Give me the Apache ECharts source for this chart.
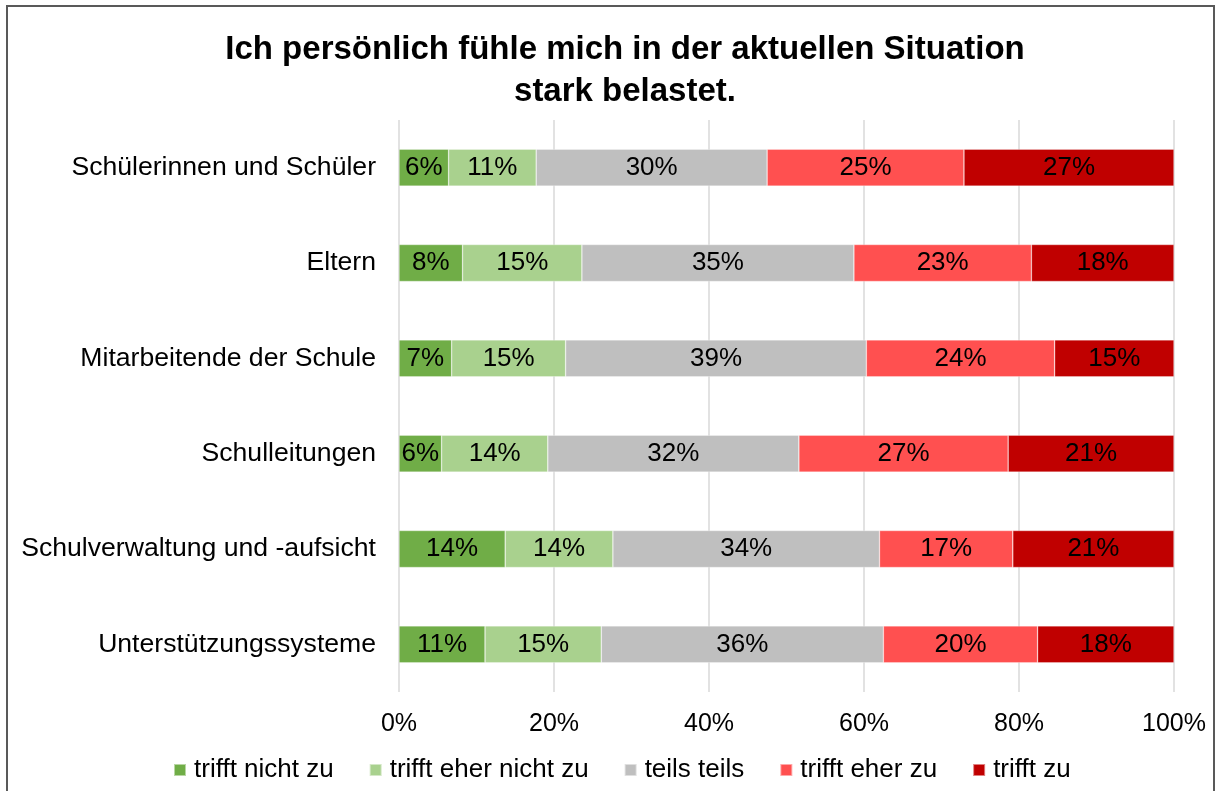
<!DOCTYPE html>
<html>
<head>
<meta charset="utf-8">
<script src="https://cdn.jsdelivr.net/npm/echarts@6/dist/echarts.min.js"></script>
<style>
  html, body { margin: 0; padding: 0; background: #fff; }
  #chart { position: absolute; left: 0; top: 0; width: 1217px; height: 791px; }
  #frame { position: absolute; left: 6px; top: 5px; width: 1205px; height: 820px;
           border: 2px solid #595959; pointer-events: none; }
</style>
</head>
<body>
<div id="chart"></div>
<div id="frame"></div>
<script>
// Kategorien (von oben nach unten)
const groups = ['Schülerinnen und Schüler', 'Eltern', 'Mitarbeitende der Schule',
  'Schulleitungen', 'Schulverwaltung und -aufsicht', 'Unterstützungssysteme']

// Antwortanteile in Prozent, je Kategorie
const trifftNichtZu = [6.4, 8.2, 6.8, 5.5, 13.7, 11.1]
const trifftEherNichtZu = [11.3, 15.4, 14.7, 13.7, 13.9, 15.0]
const teilsTeils = [29.8, 35.1, 38.8, 32.4, 34.4, 36.4]
const trifftEherZu = [25.4, 22.9, 24.3, 27.0, 17.2, 19.9]
const trifftZu = [27.1, 18.4, 15.4, 21.4, 20.8, 17.6]

const seriesNames = ['trifft nicht zu', 'trifft eher nicht zu', 'teils teils', 'trifft eher zu', 'trifft zu']
const xTicks = [0, 20, 40, 60, 80, 100]

const chart = echarts.init(document.getElementById('chart'))
const font = 'Liberation Sans, Arial, sans-serif'

const seriesData = [trifftNichtZu, trifftEherNichtZu, teilsTeils, trifftEherZu, trifftZu]
const colors = ['#70AD47', '#A9D18E', '#BFBFBF', '#FF5050', '#C00000']

const series = seriesData.map(function (data, i) {
  return {
    name: seriesNames[i],
    type: 'bar',
    stack: 'total',
    barWidth: 37,
    data: data,
    itemStyle: { color: colors[i], borderColor: 'rgba(255,255,255,0.5)', borderWidth: 0.6 },
    label: {
      show: true,
      position: 'inside',
      color: '#000',
      fontFamily: font,
      fontSize: 26,
      formatter: function (p) { return Math.round(p.value) + '%' }
    }
  }
})

chart.setOption({
  backgroundColor: '#fff',
  animation: false,
  title: {
    text: 'Ich persönlich fühle mich in der aktuellen Situation\nstark belastet.',
    left: 620,
    top: 24,
    textAlign: 'center',
    textStyle: { fontFamily: font, fontSize: 33, fontWeight: 'bold', color: '#000', lineHeight: 42 }
  },
  legend: {
    left: 168,
    top: 752,
    itemWidth: 12,
    itemHeight: 12,
    itemGap: 35,
    icon: 'rect',
    data: seriesNames,
    textStyle: { fontFamily: font, fontSize: 26, color: '#000', padding: [0, 0, 0, 3] }
  },
  grid: { left: 399, right: 43, top: 120, bottom: 99, containLabel: false },
  xAxis: {
    type: 'value',
    min: xTicks[0],
    max: xTicks[xTicks.length - 1],
    interval: 20,
    axisLine: { show: false },
    axisTick: { show: false },
    splitLine: { lineStyle: { color: '#D9D9D9', width: 1.5 } },
    axisLabel: { fontFamily: font, fontSize: 25, color: '#000', margin: 20, formatter: '{value}%' }
  },
  yAxis: {
    type: 'category',
    inverse: true,
    data: groups,
    axisLine: { show: false },
    axisTick: { show: false },
    axisLabel: { fontFamily: font, fontSize: 26.6, color: '#000', margin: 23 }
  },
  series: series
})
</script>
</body>
</html>
